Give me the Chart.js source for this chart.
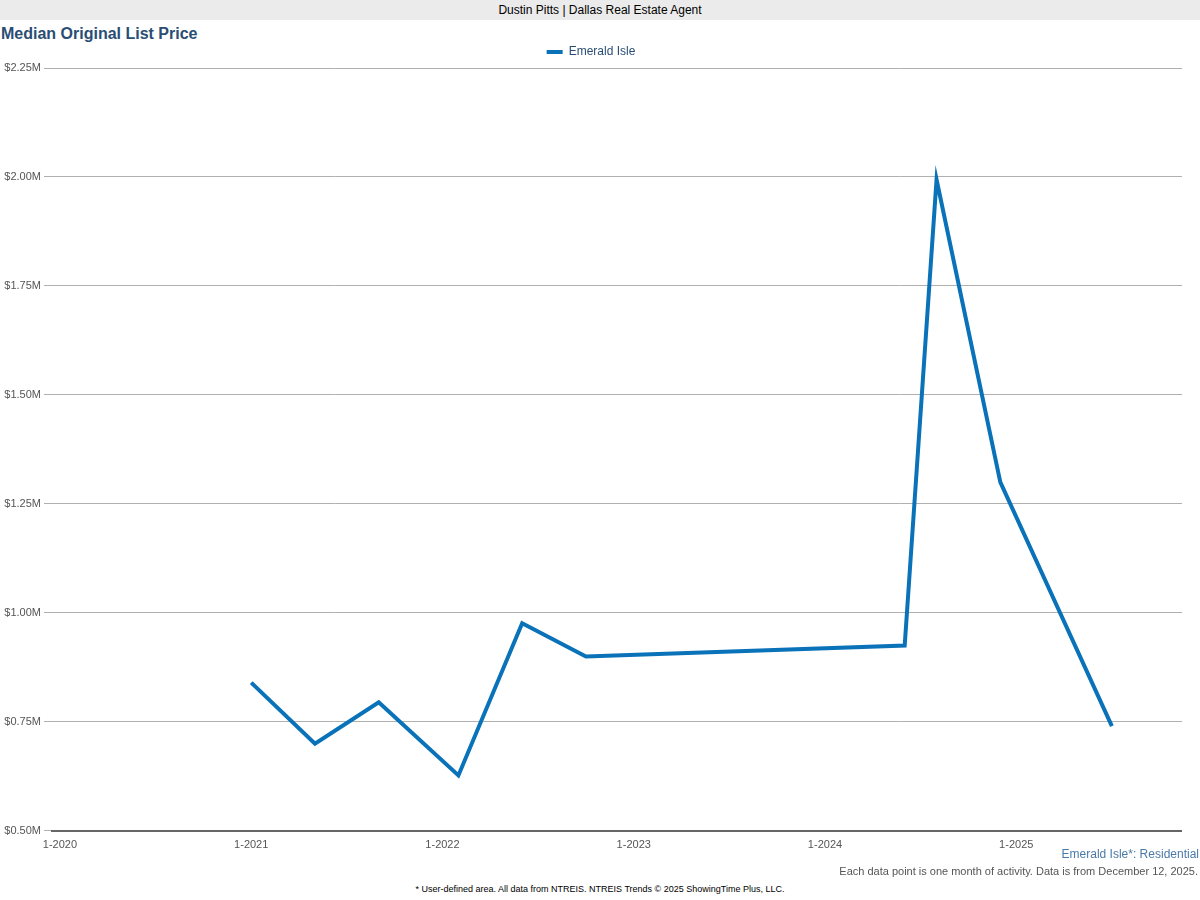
<!DOCTYPE html>
<html>
<head>
<meta charset="utf-8">
<script src="https://cdn.jsdelivr.net/npm/chart.js@4"></script>
<style>
  body { margin: 0; width: 1200px; height: 900px; position: relative; background: #fff; font-family: "Liberation Sans", Arial, sans-serif; overflow: hidden; }
  .top { position: absolute; left: 0; top: 0; width: 1200px; height: 20px; background: #ebebeb; font-size: 12px; line-height: 20px; text-align: center; color: #000; }
  .title { position: absolute; left: 1px; top: 25px; font-size: 16px; font-weight: bold; color: #2a4d74; }
  .wrap { position: absolute; left: 0; top: 40px; width: 1182px; height: 815px; }
  .area { position: absolute; right: 1px; top: 847px; font-size: 12px; color: #4a7aa8; }
  .note { position: absolute; right: 2px; top: 865px; font-size: 11px; color: #555; }
  .src { position: absolute; left: 0; width: 1200px; top: 884px; font-size: 9px; text-align: center; color: #000; }
</style>
</head>
<body>
<div class="top">Dustin Pitts | Dallas Real Estate Agent</div>
<div class="title">Median Original List Price</div>
<div class="wrap"><canvas id="c"></canvas></div>
<div class="area">Emerald Isle*: Residential</div>
<div class="note">Each data point is one month of activity. Data is from December 12, 2025.</div>
<div class="src">* User-defined area. All data from NTREIS. NTREIS Trends © 2025 ShowingTime Plus, LLC.</div>
<script>
// months counted from 1-2020
const months = [12, 16, 20, 25, 29, 33, 53, 55, 59, 66];
const prices = [0.84, 0.70, 0.795, 0.627, 0.976, 0.90, 0.925, 1.994, 1.30, 0.74];
const yTicks = [0.5, 0.75, 1.0, 1.25, 1.5, 1.75, 2.0, 2.25];

new Chart(document.getElementById("c"), {
  type: "line",
  data: {
    datasets: [{
      label: "Emerald Isle",
      data: months.map((m, i) => ({ x: m, y: prices[i] })),
      borderColor: "#0a72b8",
      backgroundColor: "#0a72b8",
      borderWidth: 4,
      pointRadius: 0,
      pointStyle: "line",
      tension: 0
    }]
  },
  options: {
    responsive: true,
    maintainAspectRatio: false,
    animation: false,
    events: [],
    plugins: {
      legend: {
        labels: { usePointStyle: true, pointStyleWidth: 16, color: "#2a4d74", font: { size: 12, family: "Liberation Sans" }, padding: 6 }
      },
      tooltip: { enabled: false }
    },
    scales: {
      x: {
        type: "linear",
        min: -0.5,
        max: 70.4,
        afterBuildTicks: s => { s.ticks = [0, 12, 24, 36, 48, 60].map(v => ({ value: v })); },
        ticks: {
          color: "#555",
          font: { size: 11, family: "Liberation Sans" },
          callback: v => "1-" + (2020 + v / 12)
        },
        grid: { display: false, drawTicks: true, tickLength: 5, tickColor: "#555" },
        border: { color: "#666", width: 2 }
      },
      y: {
        min: 0.5,
        max: 2.25,
        afterFit: s => { s.width = 52; },
        afterBuildTicks: s => { s.ticks = yTicks.map(v => ({ value: v })); },
        ticks: {
          color: "#555",
          font: { size: 11, family: "Liberation Sans" },
          callback: v => "$" + v.toFixed(2) + "M"
        },
        grid: { color: "#b0b0b0", tickLength: 8 },
        border: { display: false }
      }
    }
  }
});
</script>
</body>
</html>
